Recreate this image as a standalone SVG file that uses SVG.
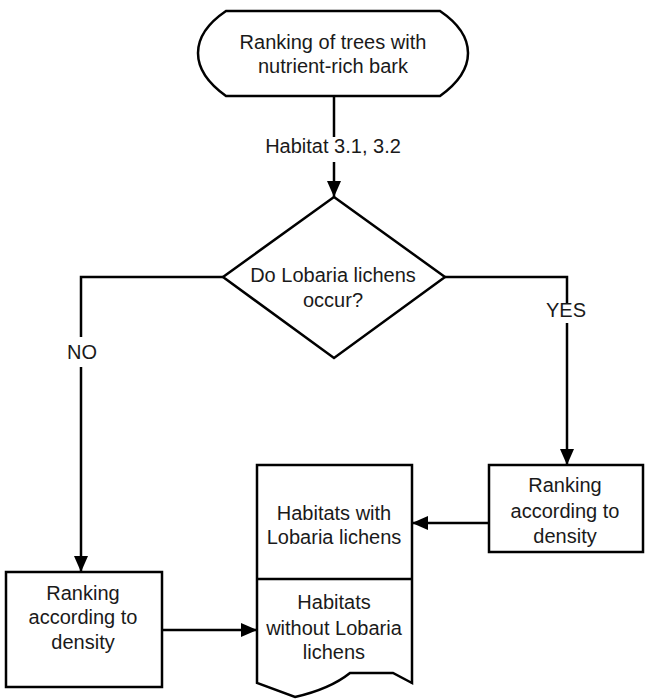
<svg xmlns="http://www.w3.org/2000/svg" width="649" height="700" viewBox="0 0 649 700">
<style>
.shape{fill:#fff;stroke:#000;stroke-width:2.5;stroke-linejoin:miter}
.line{fill:none;stroke:#000;stroke-width:2.5}
text{font-family:"Liberation Sans",Arial,sans-serif;font-size:20px;fill:#1a1a1a;text-anchor:middle}
</style>
<defs>
<marker id="arrow" markerUnits="userSpaceOnUse" markerWidth="17" markerHeight="15" refX="16" refY="7" orient="auto">
<path d="M0,0 L16,7 L0,14 Z" fill="#000"/>
</marker>
</defs>
<rect width="649" height="700" fill="#fff"/>
<g id="connectors">
<line class="line" x1="334" y1="96" x2="334" y2="137"/>
<line class="line" x1="334" y1="162" x2="334" y2="197" marker-end="url(#arrow)"/>
<polyline class="line" points="223,277 81,277 81,337"/>
<line class="line" x1="81" y1="367" x2="81" y2="572" marker-end="url(#arrow)"/>
<polyline class="line" points="445,277 567,277 567,303"/>
<line class="line" x1="567" y1="323" x2="567" y2="465" marker-end="url(#arrow)"/>
<line class="line" x1="489" y1="523" x2="412" y2="523" marker-end="url(#arrow)"/>
<line class="line" x1="162" y1="630" x2="257" y2="630" marker-end="url(#arrow)"/>
<text x="333" y="153">Habitat 3.1, 3.2</text>
<text x="82" y="359">NO</text>
<text x="566" y="317">YES</text>
</g>
<g id="start">
<path class="shape" d="M226,11 L440,11 Q468,30 468,53 Q468,76 440,96 L226,96 Q198,76 198,53 Q198,30 226,11 Z"/>
<text x="333" y="49">Ranking of trees with</text>
<text x="333" y="73">nutrient-rich bark</text>
</g>
<g id="decision">
<polygon class="shape" points="334,197 445,277 334,358 223,277"/>
<text x="333" y="282">Do Lobaria lichens</text>
<text x="333" y="307">occur?</text>
</g>
<g id="rank-yes">
<rect class="shape" x="489" y="465" width="154" height="87"/>
<text x="565" y="492">Ranking</text>
<text x="565" y="518">according to</text>
<text x="565" y="543">density</text>
</g>
<g id="rank-no">
<rect class="shape" x="6" y="572" width="156" height="115"/>
<text x="83" y="600">Ranking</text>
<text x="83" y="624">according to</text>
<text x="83" y="649">density</text>
</g>
<g id="habitats">
<path class="shape" d="M257,465 L412,465 L412,683 L393,673 L350,673 Q330,689 295,697 L257,683 Z"/>
<line class="line" x1="257" y1="579" x2="412" y2="579"/>
<text x="334" y="520">Habitats with</text>
<text x="334" y="544">Lobaria lichens</text>
<text x="334" y="609">Habitats</text>
<text x="334" y="635">without Lobaria</text>
<text x="334" y="659">lichens</text>
</g>
</svg>
